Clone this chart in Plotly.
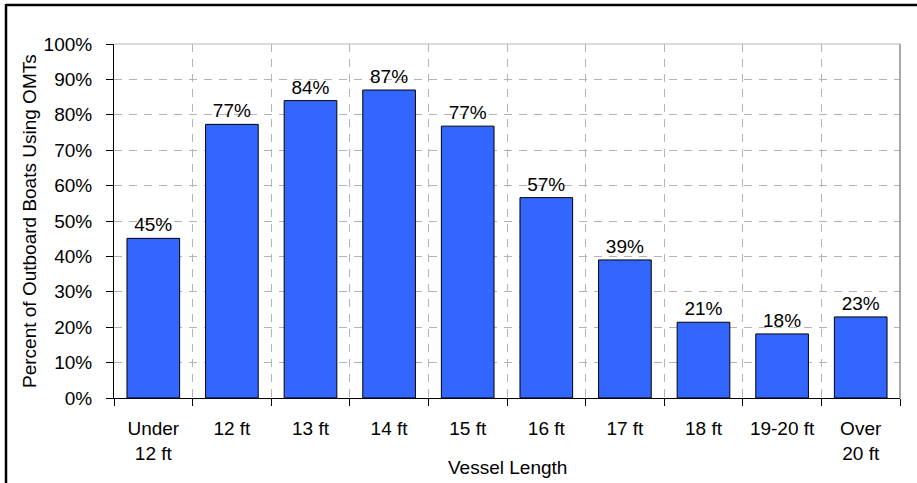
import plotly.graph_objects as go

categories = ["Under<br>12 ft", "12 ft", "13 ft", "14 ft", "15 ft", "16 ft", "17 ft", "18 ft", "19-20 ft", "Over<br>20 ft"]
values = [0.451, 0.773, 0.840, 0.870, 0.768, 0.566, 0.390, 0.214, 0.181, 0.229]
y_ticks = [i / 10 for i in range(11)]

W, H = 917, 483
ml, mr, mt, mb = 114, 17, 44, 85
pw, ph = W - ml - mr, H - mt - mb

FAM = "Liberation Sans, Arial"
font = dict(family=FAM, size=19, color="#000")

fig = go.Figure(go.Bar(
    x=categories, y=values,
    marker=dict(color="#3366FF", line=dict(color="#000000", width=1)),
    width=0.67,
    texttemplate="%{y:.0%}", textposition="outside",
    textfont=dict(family=FAM, size=19, color="#000"),
    cliponaxis=False,
))

grid = dict(showgrid=True, gridcolor="#b4b4b4", griddash="8px,7px", gridwidth=1)
fig.update_layout(
    width=W, height=H,
    margin=dict(l=ml, r=mr, t=mt, b=mb),
    paper_bgcolor="white", plot_bgcolor="white",
    font=font, showlegend=False,
    xaxis=dict(
        tickson="boundaries", ticks="outside", ticklen=7, tickcolor="#000",
        showline=True, linecolor="#000", linewidth=1,
        tickfont=font, ticklabelstandoff=13, **grid,
    ),
    yaxis=dict(
        range=[0, 1], tickvals=y_ticks, tickformat=".0%",
        ticks="outside", ticklen=7, tickcolor="#000",
        showline=True, linecolor="#000", linewidth=1,
        zeroline=False, tickfont=font, ticklabelstandoff=10, **grid,
    ),
    annotations=[
        dict(text="Vessel Length", xref="paper", yref="paper",
             x=0.5, y=-(467 - (H - mb)) / ph, xanchor="center", yanchor="middle",
             showarrow=False, font=font),
        dict(text="Percent of Outboard Boats Using OMTs", xref="paper", yref="paper",
             x=(29 - ml) / pw, y=((H - mb) - 221) / ph, xanchor="center", yanchor="middle",
             textangle=-90, showarrow=False, font=font),
    ],
    shapes=[
        dict(type="line", xref="paper", yref="paper", x0=1, x1=1, y0=0, y1=1,
             line=dict(color="#8c8c8c", width=1.5)),
        dict(type="line", xref="paper", yref="paper", x0=0, x1=1, y0=1, y1=1,
             line=dict(color="#b4b4b4", width=1)),
        dict(type="line", xref="paper", yref="paper",
             x0=(6 - ml) / pw, x1=(W - ml) / pw,
             y0=(H - mb - 5) / ph, y1=(H - mb - 5) / ph,
             line=dict(color="#000", width=2.5)),
        dict(type="line", xref="paper", yref="paper",
             x0=(6 - ml) / pw, x1=(6 - ml) / pw,
             y0=-(mb) / ph, y1=(H - mb - 4) / ph,
             line=dict(color="#000", width=2.5)),
    ],
)

fig.write_html("out.html")
